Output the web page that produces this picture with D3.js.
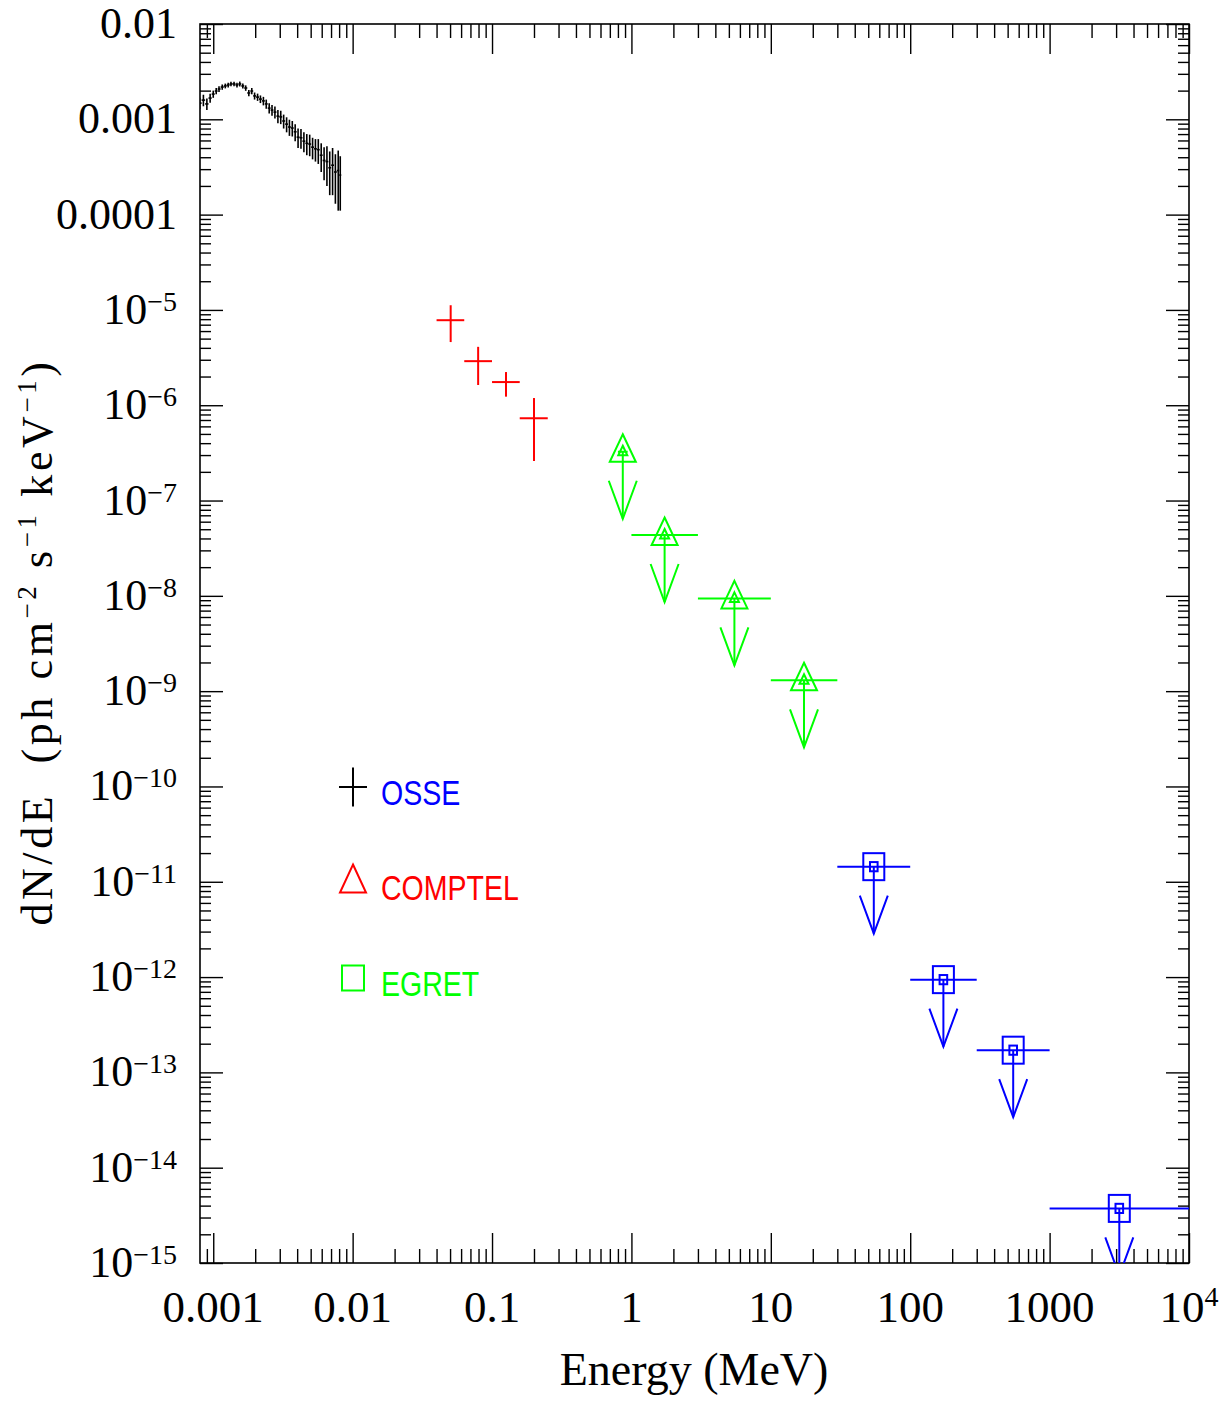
<!DOCTYPE html>
<html>
<head>
<meta charset="utf-8">
<script src="https://cdn.jsdelivr.net/npm/d3@7"></script>
<style>
  body { margin: 0; background: #fff; }
  svg { display: block; }
</style>
</head>
<body>
<div id="app"></div>
<script>
// low-energy spectrum (black), MeV / ph cm^-2 s^-1 keV^-1
const specE = [0.00080, 0.00085, 0.00090, 0.00095, 0.00100, 0.00105, 0.00110, 0.00116, 0.00122, 0.00128,
  0.00134, 0.00141, 0.00148, 0.00155, 0.00163, 0.00171, 0.00180, 0.00189, 0.00198, 0.00208,
  0.00218, 0.00229, 0.00240, 0.00252, 0.00264, 0.00277, 0.00291, 0.00305, 0.00320, 0.00336,
  0.00352, 0.00369, 0.00387, 0.00406, 0.00426, 0.00447, 0.00469, 0.00492, 0.00516, 0.00541,
  0.00567, 0.00595, 0.00624, 0.00654, 0.00685, 0.00718, 0.00752, 0.00788, 0.00815];
const specF = [1.48e-3, 1.59e-3, 1.45e-3, 1.67e-3, 1.84e-3, 1.98e-3, 2.08e-3, 2.18e-3, 2.24e-3, 2.29e-3,
  2.35e-3, 2.35e-3, 2.29e-3, 2.35e-3, 2.24e-3, 2.13e-3, 1.89e-3, 1.98e-3, 1.76e-3, 1.71e-3,
  1.63e-3, 1.56e-3, 1.45e-3, 1.31e-3, 1.25e-3, 1.19e-3, 1.08e-3, 1.06e-3, 9.6e-4, 8.9e-4,
  8.3e-4, 8.1e-4, 7.4e-4, 6.5e-4, 6.4e-4, 5.9e-4, 5.6e-4, 5.5e-4, 5.1e-4, 4.9e-4,
  4.8e-4, 4.2e-4, 3.7e-4, 3.6e-4, 3.1e-4, 3.3e-4, 2.8e-4, 2.9e-4, 2.6e-4];
const specErr = [2.0e-4, 2.2e-4, 2.0e-4, 1.8e-4, 1.6e-4, 1.5e-4, 1.4e-4, 1.4e-4, 1.3e-4, 1.3e-4,
  1.3e-4, 1.3e-4, 1.3e-4, 1.4e-4, 1.4e-4, 1.4e-4, 1.4e-4, 1.5e-4, 1.5e-4, 1.5e-4,
  1.5e-4, 1.6e-4, 1.6e-4, 1.6e-4, 1.6e-4, 1.7e-4, 1.7e-4, 1.7e-4, 1.6e-4, 1.6e-4,
  1.6e-4, 1.5e-4, 1.5e-4, 1.5e-4, 1.5e-4, 1.4e-4, 1.4e-4, 1.4e-4, 1.3e-4, 1.3e-4,
  1.4e-4, 1.4e-4, 1.4e-4, 1.6e-4, 1.5e-4, 1.7e-4, 1.5e-4, 1.8e-4, 1.5e-4];

// red crosses
const crossE = [0.0505, 0.0795, 0.126, 0.200];
const crossBinLo = [0.0400, 0.0632, 0.100, 0.158];
const crossBinHi = [0.0632, 0.100, 0.158, 0.251];
const crossF = [7.8e-6, 2.9e-6, 1.75e-6, 7.3e-7];
const crossFLo = [4.6e-6, 1.63e-6, 1.23e-6, 2.6e-7];
const crossFHi = [1.12e-5, 4.1e-6, 2.23e-6, 1.19e-6];

// green upper limits (triangles)
const triE = [0.867, 1.73, 5.48, 17.3];
const triBinLo = [0.80, 1.0, 3.0, 10];
const triBinHi = [0.94, 3.0, 10, 30];
const triF = [3.25e-7, 4.35e-8, 9.4e-9, 1.3e-9];

// blue upper limits (squares)
const sqE = [54.8, 173, 548, 3162];
const sqBinLo = [30, 100, 300, 1000];
const sqBinHi = [100, 300, 1000, 10000];
const sqF = [1.44e-11, 9.4e-13, 1.71e-13, 3.74e-15];

const xTickValues = [1e-3, 1e-2, 1e-1, 1, 10, 100, 1000, 1e4];
const xTickLabels = [['0.001', ''], ['0.01', ''], ['0.1', ''], ['1', ''], ['10', ''], ['100', ''], ['1000', ''], ['10', '4']];
const yTickValues = [1e-2, 1e-3, 1e-4, 1e-5, 1e-6, 1e-7, 1e-8, 1e-9, 1e-10, 1e-11, 1e-12, 1e-13, 1e-14, 1e-15];
const yTickLabels = [['0.01', ''], ['0.001', ''], ['0.0001', ''], ['10', '−5'], ['10', '−6'], ['10', '−7'],
  ['10', '−8'], ['10', '−9'], ['10', '−10'], ['10', '−11'], ['10', '−12'], ['10', '−13'], ['10', '−14'], ['10', '−15']];

const legendLabels = ['OSSE', 'COMPTEL', 'EGRET'];
const legendTextColors = ['#0000ff', '#ff0000', '#00ff00'];
const legendSymColors = ['#000000', '#ff0000', '#00ff00'];
const legendSymbols = ['plus', 'triangle', 'square'];

const width = 1231;
const height = 1401;
const pLeft = 200, pRight = 1189, pTop = 24, pBottom = 1263;

const svg = d3.select('#app').append('svg')
  .attr('width', width)
  .attr('height', height);

const x = d3.scaleLog().domain([Math.pow(10, -3.095), 1e4]).range([pLeft, pRight]);
const y = d3.scaleLog().domain([1e-15, 1e-2]).range([pBottom, pTop]);

// minor ticks 2..9 per decade
const minorTicks = (scale) => {
  const [a, b] = scale.domain();
  const out = [];
  for (let e = Math.floor(Math.log10(a)); e < Math.ceil(Math.log10(b)); e++) {
    for (let k = 2; k <= 9; k++) {
      const v = k * Math.pow(10, e);
      if (v > a && v < b) out.push(v);
    }
  }
  return out;
};

const axes = svg.append('g').attr('class', 'axes');
const tickAxis = (gen, tx, ty) => {
  const g = axes.append('g').attr('transform', `translate(${tx},${ty})`).call(gen);
  g.select('.domain').remove();
  g.selectAll('.tick line').attr('stroke', '#000').attr('stroke-width', 1.4);
  g.selectAll('.tick text').remove();
};
const xMinor = minorTicks(x);
const yMinor = minorTicks(y);
tickAxis(d3.axisBottom(x).tickValues(xTickValues).tickSize(-30).tickSizeOuter(0), 0, pBottom);
tickAxis(d3.axisBottom(x).tickValues(xMinor).tickSize(-14).tickSizeOuter(0), 0, pBottom);
tickAxis(d3.axisTop(x).tickValues(xTickValues).tickSize(-30).tickSizeOuter(0), 0, pTop);
tickAxis(d3.axisTop(x).tickValues(xMinor).tickSize(-14).tickSizeOuter(0), 0, pTop);
tickAxis(d3.axisLeft(y).tickValues(yTickValues).tickSize(-23).tickSizeOuter(0), pLeft, 0);
tickAxis(d3.axisLeft(y).tickValues(yMinor).tickSize(-11).tickSizeOuter(0), pLeft, 0);
tickAxis(d3.axisRight(y).tickValues(yTickValues).tickSize(-23).tickSizeOuter(0), pRight, 0);
tickAxis(d3.axisRight(y).tickValues(yMinor).tickSize(-11).tickSizeOuter(0), pRight, 0);

svg.append('rect')
  .attr('x', pLeft).attr('y', pTop)
  .attr('width', pRight - pLeft).attr('height', pBottom - pTop)
  .attr('fill', 'none').attr('stroke', '#000').attr('stroke-width', 1.6);

// tick labels
const serif = '"Liberation Serif", "Times New Roman", serif';
xTickValues.forEach((v, i) => {
  const t = svg.append('text')
    .attr('x', x(v)).attr('y', 1322)
    .attr('text-anchor', 'middle')
    .style('font-family', serif).style('font-size', '45px');
  t.append('tspan').text(xTickLabels[i][0]);
  if (xTickLabels[i][1]) t.append('tspan').attr('dy', -16).style('font-size', '28px').text(xTickLabels[i][1]);
});
yTickValues.forEach((v, i) => {
  const t = svg.append('text')
    .attr('x', 177).attr('y', y(v) + 14)
    .attr('text-anchor', 'end')
    .style('font-family', serif).style('font-size', '44px');
  t.append('tspan').text(yTickLabels[i][0]);
  if (yTickLabels[i][1]) t.append('tspan').attr('dy', -13).style('font-size', '28px').text(yTickLabels[i][1]);
});

// axis titles
svg.append('text')
  .attr('x', 694).attr('y', 1385)
  .attr('text-anchor', 'middle')
  .style('font-family', serif).style('font-size', '46px')
  .text('Energy (MeV)');

const yt = svg.append('text')
  .attr('transform', 'translate(52,642) rotate(-90)')
  .attr('text-anchor', 'middle')
  .style('font-family', serif).style('font-size', '44px')
  .style('letter-spacing', '3.6px')
  .style('white-space', 'pre');
[['dN/dE  (ph cm', 0], ['−2', -16], [' s', 16], ['−1', -16], [' keV', 16], ['−1', -16], [')', 16]]
  .forEach(([s, dy], i) => {
    const ts = yt.append('tspan').text(s);
    if (i > 0) ts.attr('dy', dy);
    if (dy < 0) ts.style('font-size', '27px');
  });

// data layer, clipped to plot
svg.append('clipPath').attr('id', 'plot-clip')
  .append('rect').attr('x', pLeft).attr('y', pTop).attr('width', pRight - pLeft).attr('height', pBottom - pTop);
const plot = svg.append('g').attr('clip-path', 'url(#plot-clip)');

// black spectrum: vertical error bars plus bin widths
const n = specE.length;
const spec = specE.map((e, i) => {
  const prev = i > 0 ? specE[i - 1] : e * e / specE[i + 1];
  const next = i < n - 1 ? specE[i + 1] : e * e / specE[i - 1];
  return { e, f: specF[i], err: specErr[i], lo: Math.sqrt(prev * e), hi: Math.sqrt(next * e) };
});
const gs = plot.append('g').attr('stroke', '#000').attr('stroke-width', 1.6);
gs.selectAll('line.v').data(spec).enter().append('line').attr('class', 'v')
  .attr('x1', d => x(d.e)).attr('x2', d => x(d.e))
  .attr('y1', d => y(d.f + d.err)).attr('y2', d => y(d.f - d.err));
gs.selectAll('line.h').data(spec).enter().append('line').attr('class', 'h')
  .attr('x1', d => x(d.lo)).attr('x2', d => x(d.hi))
  .attr('y1', d => y(d.f)).attr('y2', d => y(d.f));

// red crosses
const cross = crossE.map((e, i) => ({ e, lo: crossBinLo[i], hi: crossBinHi[i], f: crossF[i], fl: crossFLo[i], fh: crossFHi[i] }));
const gc = plot.append('g').attr('stroke', '#ff0000').attr('stroke-width', 2);
gc.selectAll('line.h').data(cross).enter().append('line').attr('class', 'h')
  .attr('x1', d => x(d.lo)).attr('x2', d => x(d.hi)).attr('y1', d => y(d.f)).attr('y2', d => y(d.f));
gc.selectAll('line.v').data(cross).enter().append('line').attr('class', 'v')
  .attr('x1', d => x(d.e)).attr('x2', d => x(d.e)).attr('y1', d => y(d.fh)).attr('y2', d => y(d.fl));

// upper-limit arrow, pixel sized
const arrowLen = 67, headLen = 38, headHalf = 14;
const drawLimit = (g, d) => {
  const cx = x(d.e), cy = y(d.f);
  g.append('line').attr('x1', x(d.lo)).attr('x2', x(d.hi)).attr('y1', cy).attr('y2', cy);
  g.append('line').attr('x1', cx).attr('x2', cx).attr('y1', cy).attr('y2', cy + arrowLen);
  g.append('path').attr('fill', 'none')
    .attr('d', `M${cx - headHalf},${cy + arrowLen - headLen}L${cx},${cy + arrowLen}L${cx + headHalf},${cy + arrowLen - headLen}`);
};
const triPath = (cx, cy, up, down, half) => `M${cx},${cy - up}L${cx + half},${cy + down}L${cx - half},${cy + down}Z`;

const gt = plot.append('g').attr('stroke', '#00ff00').attr('stroke-width', 2).attr('fill', 'none');
triE.forEach((e, i) => {
  const d = { e, lo: triBinLo[i], hi: triBinHi[i], f: triF[i] };
  drawLimit(gt, d);
  gt.append('path').attr('d', triPath(x(e), y(d.f), 17.5, 10, 13));
  gt.append('path').attr('d', triPath(x(e), y(d.f), 6, 3.5, 4.5));
});

const gq = plot.append('g').attr('stroke', '#0000ff').attr('stroke-width', 2).attr('fill', 'none');
sqE.forEach((e, i) => {
  const d = { e, lo: sqBinLo[i], hi: sqBinHi[i], f: sqF[i] };
  drawLimit(gq, d);
  gq.append('rect').attr('x', x(e) - 10.5).attr('y', y(d.f) - 13.5).attr('width', 21).attr('height', 27);
  gq.append('rect').attr('x', x(e) - 3.8).attr('y', y(d.f) - 4.6).attr('width', 7.6).attr('height', 9.2);
});

// legend
const legX = 353, legY0 = 787, legStep = 95.5;
const leg = svg.append('g');
legendLabels.forEach((lab, i) => {
  const cy = legY0 + i * legStep;
  const col = legendSymColors[i];
  const s = legendSymbols[i];
  if (s === 'plus') {
    leg.append('path').attr('stroke', col).attr('stroke-width', 2).attr('fill', 'none')
      .attr('d', `M${legX - 14},${cy}H${legX + 14}M${legX},${cy - 19.5}V${cy + 19.5}`);
  } else if (s === 'triangle') {
    leg.append('path').attr('stroke', col).attr('stroke-width', 2).attr('fill', 'none')
      .attr('d', triPath(legX, cy, 18, 10, 13));
  } else {
    leg.append('rect').attr('stroke', col).attr('stroke-width', 2).attr('fill', 'none')
      .attr('x', legX - 11).attr('y', cy - 12.5).attr('width', 22).attr('height', 25);
  }
  leg.append('text')
    .attr('transform', `translate(381,${cy + 17.5}) scale(0.815,1)`)
    .attr('fill', legendTextColors[i])
    .style('font-family', '"Liberation Sans", Arial, sans-serif').style('font-size', '35px')
    .text(lab);
});
</script>
</body>
</html>
